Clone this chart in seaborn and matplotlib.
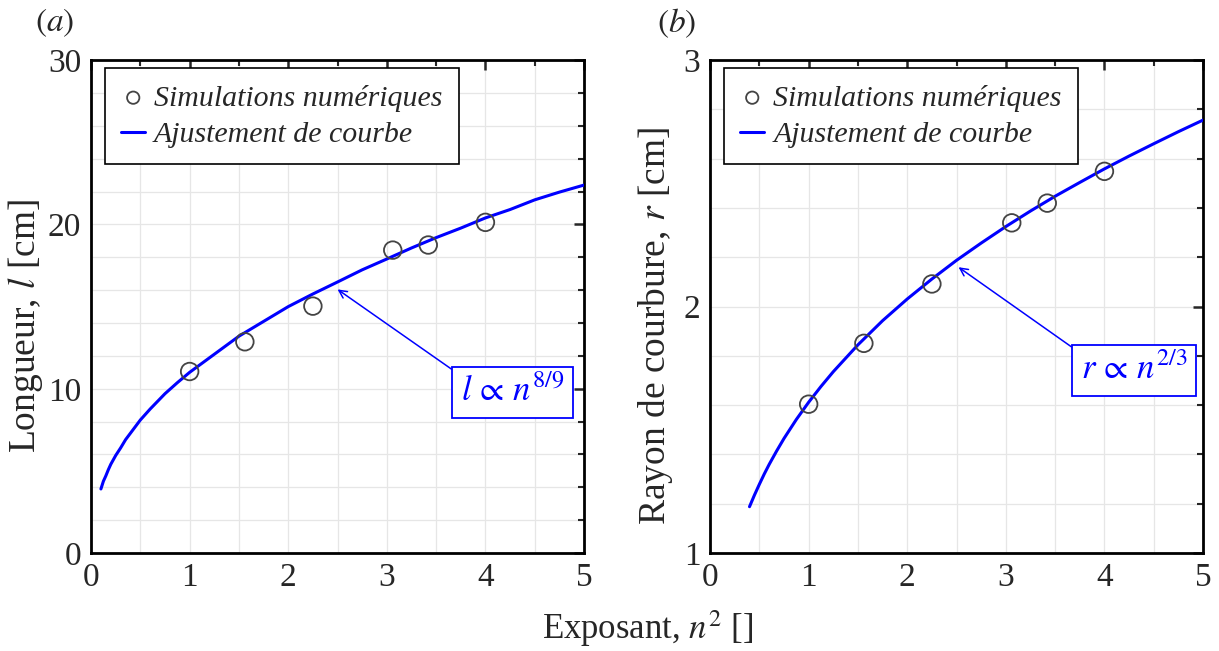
import matplotlib
matplotlib.use("Agg")
import matplotlib.pyplot as plt
import seaborn as sns
from matplotlib.ticker import MultipleLocator

# simulations numériques, abscisse = n^2
n2_sim = [1.0, 1.56, 2.25, 3.06, 3.42, 4.0]
longueur_sim = [11.05, 12.86, 15.03, 18.44, 18.75, 20.13]
rayon_sim = [1.604, 1.851, 2.092, 2.34, 2.42, 2.549]

# courbes d'ajustement
n2_fit_l = [0.1, 0.125, 0.15, 0.175, 0.2, 0.25, 0.3, 0.35, 0.4, 0.5, 0.6, 0.75, 0.875,
            1.0, 1.25, 1.5, 1.75, 2.0, 2.25, 2.5, 2.75, 3.0, 3.25, 3.5, 3.75, 4.0,
            4.25, 4.5, 4.75, 5.0]
longueur_fit = [3.9, 4.37, 4.7, 5.07, 5.4, 5.94, 6.4, 6.9, 7.3, 8.1, 8.77, 9.7, 10.37,
                11.0, 12.1, 13.2, 14.1, 15.0, 15.77, 16.5, 17.24, 17.9, 18.57, 19.2,
                19.78, 20.4, 20.91, 21.5, 21.97, 22.4]
n2_fit_r = [0.4, 0.45, 0.5, 0.55, 0.6, 0.675, 0.75, 0.875, 1.0, 1.125, 1.25, 1.5,
            1.75, 2.0, 2.25, 2.5, 2.75, 3.0, 3.25, 3.5, 3.75, 4.0, 4.25, 4.5, 4.75, 5.0]
rayon_fit = [1.188, 1.235, 1.279, 1.321, 1.36, 1.414, 1.465, 1.542, 1.612, 1.676,
             1.736, 1.845, 1.943, 2.031, 2.112, 2.188, 2.258, 2.325, 2.388, 2.448,
             2.504, 2.559, 2.611, 2.661, 2.71, 2.757]

sns.set_style("white")
plt.rcParams['font.family'] = ['Liberation Serif', 'DejaVu Serif']
plt.rcParams['mathtext.fontset'] = 'stix'

BLEU = '#0000ff'


def panneau(ax, x_sim, y_sim, x_fit, y_fit, ylim, major, minor, ylabel, lpad,
            formule, tip, coin):
    sns.lineplot(x=x_fit, y=y_fit, ax=ax, color=BLEU, lw=2.2, sort=False,
                 label='Ajustement de courbe', zorder=3)
    sns.scatterplot(x=x_sim, y=y_sim, ax=ax, marker='o', s=160, facecolor='none',
                    edgecolor='#444444', linewidth=1.3, label='Simulations numériques',
                    zorder=4)
    ax.set_xlim(0, 5)
    ax.set_ylim(*ylim)
    ax.xaxis.set_major_locator(MultipleLocator(1))
    ax.xaxis.set_minor_locator(MultipleLocator(0.5))
    ax.yaxis.set_major_locator(MultipleLocator(major))
    ax.yaxis.set_minor_locator(MultipleLocator(minor))
    ax.grid(True, which='both', color='#e6e6e6', lw=0.9)
    ax.set_axisbelow(True)
    ax.tick_params(which='both', direction='in', top=True, right=True, labelsize=24, pad=7)
    ax.tick_params(which='major', length=7, width=1.8)
    ax.tick_params(which='minor', length=4, width=1.5)
    for s in ax.spines.values():
        s.set_linewidth(2)
        s.set_color('black')
    ax.set_ylabel(ylabel, fontsize=27, labelpad=lpad)
    ax.yaxis.label.set_y(0.46)
    ax.set_xlabel('')

    h, l = ax.get_legend_handles_labels()
    leg = ax.legend(h[::-1], l[::-1], loc='upper left', bbox_to_anchor=(0.028, 0.984),
                    borderaxespad=0, frameon=True, fancybox=False, framealpha=1,
                    edgecolor='black', prop={'style': 'italic', 'size': 21.5},
                    handlelength=0.8, handletextpad=0.3, borderpad=0.55,
                    labelspacing=0.32, markerscale=0.7)
    leg.get_frame().set_linewidth(1.2)

    ax.annotate(formule, xy=tip, xytext=coin, ha='left', va='top', color=BLEU,
                fontsize=25,
                bbox=dict(boxstyle='square,pad=0.25', fc='white', ec=BLEU, lw=1.3),
                arrowprops=dict(arrowstyle='->', color=BLEU, lw=1.1, relpos=(0, 1),
                                shrinkA=0, shrinkB=0, mutation_scale=14))


fig = plt.figure(figsize=(12.19, 6.51), dpi=100)
ax1 = fig.add_axes([0.0747, 0.1505, 0.4044, 0.757])
ax2 = fig.add_axes([0.5825, 0.1505, 0.4044, 0.757])

panneau(ax1, n2_sim, longueur_sim, n2_fit_l, longueur_fit, (0, 30), 10, 2,
        'Longueur, $l$ [cm]', 2, r'$l\,\propto\,n^{8/9}$', (2.5, 16.05), (3.75, 10.8))
panneau(ax2, n2_sim, rayon_sim, n2_fit_r, rayon_fit, (1, 3), 1, 0.2,
        'Rayon de courbure, $r$ [cm]', 6, r'$r\,\propto\,n^{2/3}$', (2.52, 2.16),
        (3.76, 1.81))

fig.text(0.045, 0.965, '$(a)$', fontsize=24, ha='center', va='center')
fig.text(0.555, 0.965, '$(b)$', fontsize=24, ha='center', va='center')
fig.text(0.531, 0.034, 'Exposant, $n^2$ []', fontsize=25, ha='center', va='center')

fig.savefig('out.png', dpi=100)
